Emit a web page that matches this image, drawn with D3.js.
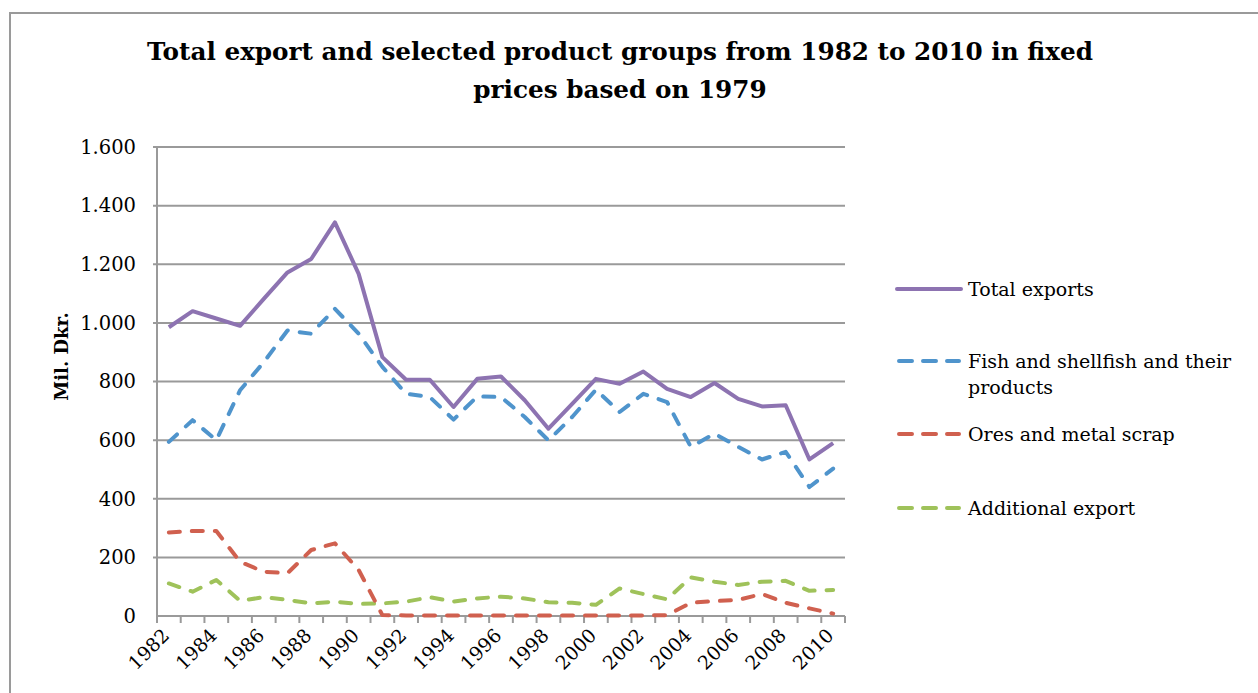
<!DOCTYPE html>
<html>
<head>
<meta charset="utf-8">
<script src="https://cdn.jsdelivr.net/npm/d3@7"></script>
<style>
  body { margin: 0; background: #fff; }
  svg { display: block; }
  text { font-family: "DejaVu Serif", "Liberation Serif", serif; fill: #000; }
</style>
</head>
<body>
<div id="chart"></div>
<script>
// Categories and values (Mil. Dkr.)
const years = [1982, 1983, 1984, 1985, 1986, 1987, 1988, 1989, 1990, 1991,
    1992, 1993, 1994, 1995, 1996, 1997, 1998, 1999, 2000, 2001,
    2002, 2003, 2004, 2005, 2006, 2007, 2008, 2009, 2010]
const totalExports = [985, 1040, 1015, 990, 1082, 1172, 1218, 1343, 1167, 883,
    806, 806, 713, 809, 817, 736, 639, 724, 809, 792,
    834, 775, 747, 795, 741, 715, 719, 534, 590]
const fishProducts = [594, 668, 600, 770, 866, 974, 963, 1048, 963, 850,
    758, 747, 670, 749, 747, 679, 599, 679, 772, 696,
    758, 730, 577, 622, 577, 534, 560, 440, 503]
const oresMetal = [285, 290, 290, 185, 151, 146, 225, 248, 157, 3,
    2, 2, 2, 2, 2, 2, 2, 2, 2, 2,
    2, 3, 45, 51, 55, 75, 45, 26, 8]
const additionalExport = [111, 83, 123, 52, 64, 55, 43, 49, 41, 43,
    49, 64, 49, 60, 66, 60, 47, 45, 38, 94,
    75, 57, 132, 117, 106, 117, 120, 86, 89]
const yTicks = [0, 200, 400, 600, 800, 1000, 1200, 1400, 1600]
const seriesNames = ["Total exports", "Fish and shellfish and their products",
    "Ores and metal scrap", "Additional export"]

const series = [
    { name: seriesNames[0], values: totalExports, color: "#8d73b1", dash: null },
    { name: seriesNames[1], values: fishProducts, color: "#4f94cc", dash: "11,12" },
    { name: seriesNames[2], values: oresMetal, color: "#d0604f", dash: "11,12" },
    { name: seriesNames[3], values: additionalExport, color: "#9fc25a", dash: "11,12" },
]

const width = 1258, height = 693
const plot = { left: 157, right: 845, top: 147, bottom: 616 }

const svg = d3.select("#chart").append("svg")
    .attr("width", width)
    .attr("height", height)

// chart frame
svg.append("rect")
    .attr("x", 10).attr("y", 13)
    .attr("width", 1400).attr("height", 900)
    .attr("fill", "none")
    .attr("stroke", "#9a9a9a")
    .attr("stroke-width", 2)

// title
svg.append("text")
    .attr("x", 620).attr("y", 60)
    .attr("text-anchor", "middle")
    .style("font-weight", "bold")
    .style("font-size", "24.7px")
    .text("Total export and selected product groups from 1982 to 2010 in fixed")
svg.append("text")
    .attr("x", 620).attr("y", 98)
    .attr("text-anchor", "middle")
    .style("font-weight", "bold")
    .style("font-size", "24.7px")
    .text("prices based on 1979")

// scales
var x = d3.scaleBand()
    .domain(years)
    .range([plot.left, plot.right])
    .padding(0)
var y = d3.scaleLinear()
    .domain([0, 1600])
    .range([plot.bottom, plot.top])

const danish = d3.formatLocale({ decimal: ",", thousands: ".", grouping: [3], currency: ["", ""] })
const fmt = danish.format(",")

// gridlines + y labels
svg.append("g")
    .selectAll("line")
    .data(yTicks.filter(d => d > 0))
    .join("line")
    .attr("x1", plot.left - 4).attr("x2", plot.right)
    .attr("y1", d => y(d)).attr("y2", d => y(d))
    .attr("stroke", "#9a9a9a")
    .attr("stroke-width", 2)

svg.append("g")
    .selectAll("text")
    .data(yTicks)
    .join("text")
    .attr("x", plot.left - 21)
    .attr("y", d => y(d))
    .attr("dy", "0.35em")
    .attr("text-anchor", "end")
    .style("font-size", "19.5px")
    .text(d => fmt(d))

// y axis title
svg.append("text")
    .attr("transform", "translate(68," + ((plot.top + plot.bottom) / 2 - 25) + ") rotate(-90)")
    .attr("text-anchor", "middle")
    .style("font-weight", "bold")
    .style("font-size", "18px")
    .text("Mil. Dkr.")

// axes lines
svg.append("line")
    .attr("x1", plot.left).attr("x2", plot.left)
    .attr("y1", plot.top).attr("y2", plot.bottom)
    .attr("stroke", "#9a9a9a").attr("stroke-width", 2)
svg.append("line")
    .attr("x1", plot.left).attr("x2", plot.right)
    .attr("y1", plot.bottom).attr("y2", plot.bottom)
    .attr("stroke", "#9a9a9a").attr("stroke-width", 2)

// x ticks at band edges
const edges = years.map(d => x(d)).concat([x(years[years.length - 1]) + x.bandwidth()])
svg.append("g")
    .selectAll("line")
    .data(edges)
    .join("line")
    .attr("x1", d => d).attr("x2", d => d)
    .attr("y1", plot.bottom).attr("y2", plot.bottom + 7)
    .attr("stroke", "#9a9a9a").attr("stroke-width", 2)

// x labels every other year
svg.append("g")
    .selectAll("text")
    .data(years.filter((d, i) => i % 2 == 0))
    .join("text")
    .attr("transform", d => "translate(" + (x(d) + x.bandwidth() / 2 - 3) + "," + (plot.bottom + 16) + ") rotate(-45)")
    .attr("text-anchor", "end")
    .attr("dy", "0.35em")
    .style("font-size", "19px")
    .text(d => d)

// lines
var line = d3.line()
    .x((d, i) => x(years[i]) + x.bandwidth() / 2)
    .y(d => y(d))

svg.append("g")
    .selectAll("path")
    .data(series.slice().reverse())
    .join("path")
    .attr("d", d => line(d.values))
    .attr("fill", "none")
    .attr("stroke", d => d.color)
    .attr("stroke-width", 4)
    .attr("stroke-linejoin", "round")
    .attr("stroke-linecap", d => d.dash ? "round" : "butt")
    .attr("stroke-dasharray", d => d.dash)

// legend
const legendRows = [
    { y: 289, lines: ["Total exports"] },
    { y: 361, lines: ["Fish and shellfish and their", "products"] },
    { y: 434, lines: ["Ores and metal scrap"] },
    { y: 508, lines: ["Additional export"] },
]
const legend = svg.append("g")
    .selectAll("g")
    .data(series)
    .join("g")
    .attr("transform", (d, i) => "translate(0," + legendRows[i].y + ")")
legend.append("line")
    .attr("x1", d => d.dash ? 899 : 897).attr("x2", d => d.dash ? 959 : 961)
    .attr("stroke", d => d.color)
    .attr("stroke-width", 4)
    .attr("stroke-linecap", "round")
    .attr("stroke-dasharray", d => d.dash ? "13,11" : null)
legend.append("text")
    .attr("x", 968)
    .style("font-size", "19px")
    .selectAll("tspan")
    .data((d, i) => legendRows[i].lines)
    .join("tspan")
    .attr("x", 968)
    .attr("dy", (d, i) => i == 0 ? "0.35em" : "1.4em")
    .text(d => d)
</script>
</body>
</html>
